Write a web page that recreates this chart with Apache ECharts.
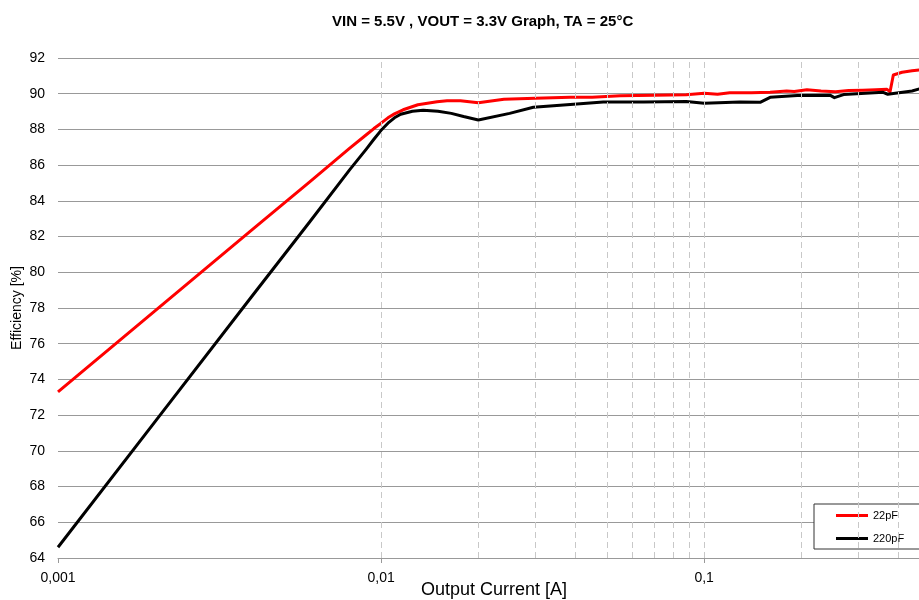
<!DOCTYPE html>
<html>
<head>
<meta charset="utf-8">
<script src="https://cdn.jsdelivr.net/npm/echarts@6/dist/echarts.min.js"></script>
<style>html,body{margin:0;padding:0;background:#fff}#c{width:919px;height:600px}</style>
</head>
<body>
<div id="c"></div>
<script>
var titleText = 'VIN = 5.5V , VOUT = 3.3V Graph, TA = 25°C';
var seriesNames = ['22pF', '220pF'];
var current22 = [0.001,0.002,0.004,0.006,0.008,0.009,0.0095,0.01,0.0105,0.011,0.0117,0.013,0.0149,0.016,0.0176,0.02,0.024,0.03,0.0385,0.045,0.055,0.07,0.088,0.1,0.11,0.12,0.14,0.16,0.18,0.19,0.208,0.23,0.255,0.28,0.31,0.34,0.368,0.376,0.385,0.41,0.44,0.47];
var eff22 = [73.3,77.85,82.4,85.05,86.95,87.7,88.05,88.35,88.65,88.87,89.1,89.38,89.55,89.6,89.61,89.5,89.69,89.74,89.8,89.8,89.88,89.92,89.94,90.02,89.97,90.06,90.05,90.08,90.15,90.12,90.22,90.15,90.11,90.18,90.2,90.22,90.25,90.1,91.05,91.2,91.28,91.35];
var current220 = [0.001,0.002,0.004,0.006,0.008,0.009,0.0095,0.01,0.0105,0.011,0.0115,0.0125,0.0135,0.015,0.0165,0.018,0.02,0.025,0.0296,0.0385,0.0487,0.065,0.088,0.1,0.129,0.149,0.16,0.194,0.245,0.253,0.27,0.358,0.37,0.44,0.47];
var eff220 = [64.6,71.65,78.7,82.8,85.75,86.9,87.45,87.95,88.35,88.65,88.85,89.02,89.08,89.02,88.9,88.72,88.53,88.9,89.24,89.4,89.54,89.54,89.57,89.46,89.54,89.52,89.8,89.9,89.92,89.78,89.95,90.08,89.97,90.15,90.3];
var gridTicks = [0.001,0.002,0.003,0.004,0.005,0.006,0.007,0.008,0.009,0.01,0.02,0.03,0.04,0.05,0.06,0.07,0.08,0.09,0.1,0.2,0.3,0.4];
var xMin = 0.001, xMax = 0.5;
var yMin = 64, yMax = 92, yStep = 2;

function pairs(xs, ys){ return xs.map(function(x,i){ return [x, ys[i]]; }); }
var font = "'Liberation Sans', Arial, sans-serif";
var chart = echarts.init(document.getElementById('c'));
chart.setOption({
  animation: false,
  title: {
    text: titleText, left: 327, top: 9,
    textStyle: {fontFamily: font, fontSize: 15, fontWeight: 'bold', color: '#000'}
  },
  legend: {
    orient: 'vertical', left: 814, top: 504,
    padding: [6, 60, 5, 22], itemGap: 12,
    itemWidth: 32, itemHeight: 3, icon: 'rect',
    borderColor: '#333', borderWidth: 1, backgroundColor: '#fff',
    textStyle: {fontFamily: font, fontSize: 11, color: '#000'},
    data: seriesNames
  },
  grid: {left: 58, top: 58, bottom: 42, width: 872, containLabel: false, outerBoundsMode: 'none'},
  xAxis: {
    type: 'log', logBase: 10, min: xMin, max: xMax,
    name: 'Output Current [A]', nameLocation: 'middle', nameGap: 23, nameMoveOverlap: false,
    nameTextStyle: {fontFamily: font, fontSize: 18, color: '#000'},
    axisLine: {show: true, lineStyle: {color: '#999', width: 1}},
    axisTick: {show: true, length: 5, lineStyle: {color: '#999'}},
    axisLabel: {fontFamily: font, fontSize: 14, color: '#000', margin: 13, showMaxLabel: false,
      formatter: function(v){ return String(+Number(v).toPrecision(6)).replace('.', ','); }},
    splitLine: {show: false},
    minorTick: {show: false}
  },
  yAxis: {
    type: 'value', min: yMin, max: yMax, interval: yStep,
    name: 'Efficiency [%]', nameLocation: 'middle', nameGap: 34, nameRotate: 90, nameMoveOverlap: false,
    nameTextStyle: {fontFamily: font, fontSize: 14, color: '#000'},
    axisLine: {show: false}, axisTick: {show: false},
    axisLabel: {fontFamily: font, fontSize: 14, color: '#000', margin: 13},
    splitLine: {show: true, lineStyle: {color: '#999', width: 1}}
  },
  series: [
    {
      type: 'line', name: '_grid', data: [], silent: true, z: 1,
      markLine: {
        silent: true, symbol: ['none', 'none'], animation: false,
        label: {show: false},
        lineStyle: {type: [6, 4], color: '#c8c8c8', width: 1},
        emphasis: {disabled: true},
        data: gridTicks.map(function(v){ return {xAxis: v}; })
      }
    },
    {
      type: 'line', name: seriesNames[0], data: pairs(current22, eff22),
      showSymbol: false, smooth: false, z: 3,
      lineStyle: {color: '#ff0000', width: 3, join: 'round'}, itemStyle: {color: '#ff0000'}
    },
    {
      type: 'line', name: seriesNames[1], data: pairs(current220, eff220),
      showSymbol: false, smooth: false, z: 4,
      lineStyle: {color: '#000000', width: 3, join: 'round'}, itemStyle: {color: '#000000'}
    }
  ]
});
</script>
</body>
</html>
